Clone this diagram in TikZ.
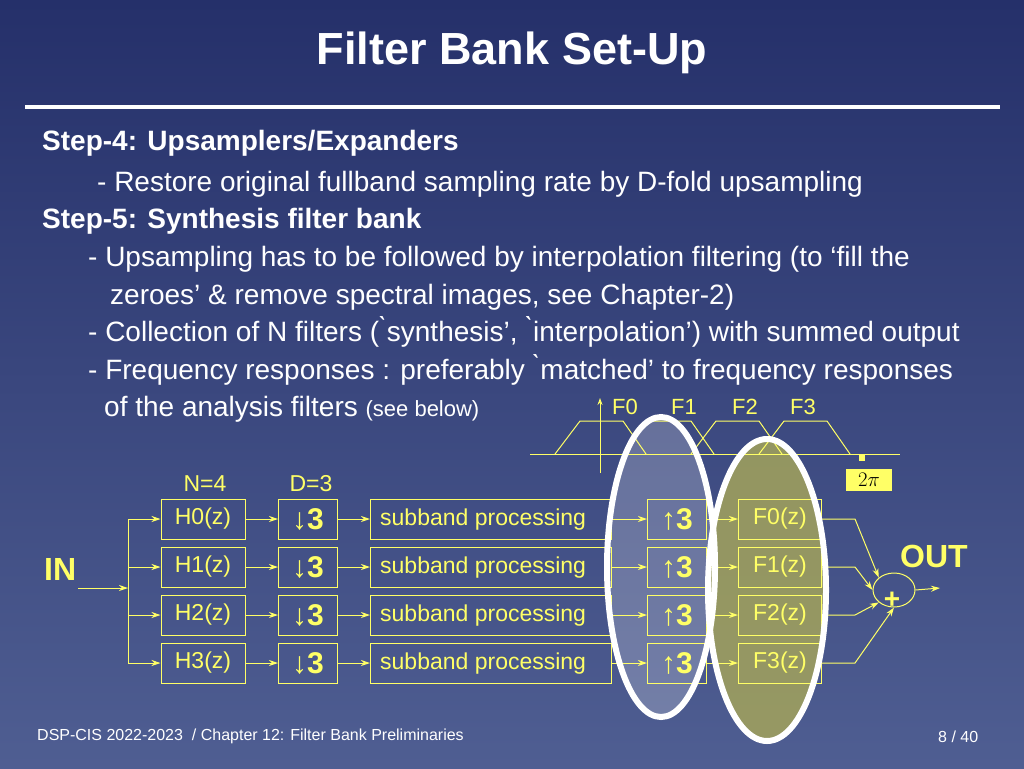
\documentclass[tikz,border=0pt]{standalone}
\usepackage{fontspec}
\setmainfont{Liberation Sans}
\usetikzlibrary{arrows.meta,shapes.geometric}
\definecolor{bgtop}{HTML}{25306A}
\definecolor{bgbot}{HTML}{4F5E92}
\definecolor{yel}{HTML}{FFFF66}
\definecolor{oli}{HTML}{A3A35C}
\begin{document}
\begin{tikzpicture}[x=1pt,y=-1pt,
  txt/.style={anchor=base west,text=white,inner sep=0pt,font=\fontsize{28}{32}\selectfont},
  ytxt/.style={anchor=base west,text=yel,inner sep=0pt,font=\fontsize{23}{27}\selectfont},
  blk/.style={draw=yel,line width=1pt,minimum height=40pt,inner sep=0pt},
  con/.style={draw=yel,line width=1pt,-{Stealth[length=9pt,width=6pt]}},
  ln/.style={draw=yel,line width=1pt},
  ring/.style={draw=white,line width=6pt}]
\shade[top color=bgtop,bottom color=bgbot] (0,0) rectangle (1024,768);
\useasboundingbox (0,0) rectangle (1024,768);
% title
\node[anchor=base,text=white,font=\fontsize{45}{50}\bfseries\selectfont] (title) at (512,64) {Filter Bank Set-Up};
\draw[white,line width=4pt] (25,107) -- (1000,107);
% text
\node[txt,font=\fontsize{28}{32}\bfseries\selectfont] (t1) at (42,150) {Step-4: Upsamplers/Expanders};
\node[txt] (t2) at (97,191) {- Restore original fullband sampling rate by D-fold upsampling};
\node[txt,font=\fontsize{28}{32}\bfseries\selectfont] (t3) at (42,228) {Step-5: Synthesis filter bank};
\node[txt] (t4) at (88,266) {- Upsampling has to be followed by interpolation filtering (to ‘fill the};
\node[txt] (t5) at (110,304) {zeroes’ \& remove spectral images, see Chapter-2)};
\node[txt] (t6) at (88,341) {- Collection of N filters (\`{}synthesis’, \`{}interpolation’) with summed output};
\node[txt] (t7) at (88,379) {- Frequency responses : preferably \`{}matched’ to frequency responses};
\node[txt] (t8) at (104,416) {of the analysis filters {\fontsize{22}{26}\selectfont(see below)}};
% ellipse fills
\fill[white,opacity=0.22] (661,567) ellipse [x radius=54,y radius=150];
\fill[oli,opacity=0.85] (767,590) ellipse [x radius=59,y radius=151];
% frequency plot
\draw[ln] (530,454) -- (900,454);
\draw[ln,-{Stealth[length=7pt,width=5pt]}] (600,473) -- (600,398);
\foreach \a in {555,623,691,759} {\draw[ln] (\a,454) -- (\a+25,421) -- (\a+68,421) -- (\a+91,454);}
\foreach \x/\t in {625/F0,684/F1,745/F2,803/F3} {\node[ytxt,anchor=base,font=\fontsize{22}{26}\selectfont] at (\x,414) {\t};}
\fill[yel] (859,455) rectangle (865,461);
\node[fill=yel,minimum width=46pt,minimum height=22pt,inner sep=0pt,font=\fontsize{22}{26}\selectfont] (tp) at (869,480) {$2\pi$};
% block diagram
\node[ytxt,anchor=base] at (205,491) {N=4};
\node[ytxt,anchor=base] at (311,491) {D=3};
\node[text=yel,font=\fontsize{32}{36}\bfseries\selectfont,anchor=base west,inner sep=0pt] (in) at (44,580) {IN};
\node[text=yel,font=\fontsize{32}{36}\bfseries\selectfont,anchor=base west,inner sep=0pt] (out) at (900,567) {OUT};
\coordinate (inS) at (78,588);
\coordinate (bus) at (128,588);
\draw[con] (inS) -- (bus);
\draw[ln] (128,519) -- (128,663);
\node[draw=yel,line width=1pt,ellipse,minimum width=42pt,minimum height=34pt,inner sep=0pt] (sum) at (894,590) {};
\node[text=yel,font=\fontsize{28}{30}\bfseries\selectfont] at (892,600) {+};
\coordinate (outE) at (940,588);
\draw[con] (sum.east) -- (outE);
\foreach \i/\y in {0/519,1/567,2/615,3/663} {
  \node[blk,minimum width=84pt,font=\fontsize{23}{27}\selectfont,text=yel] (h\i) at (203,\y) {H\i(z)};
  \node[blk,minimum width=59pt,text=yel] (d\i) at (308,\y) {\fontsize{30}{32}\selectfont↓\fontsize{30}{32}\bfseries\selectfont 3};
  \node[blk,minimum width=241pt,text=yel] (s\i) at (491,\y) {};
  \node[ytxt,font=\fontsize{23}{27}\selectfont] at (380,\y+6) {subband processing};
  \node[blk,minimum width=59pt,text=yel] (u\i) at (677,\y) {\fontsize{30}{32}\selectfont↑\fontsize{30}{32}\bfseries\selectfont 3};
  \node[blk,minimum width=83pt,text=yel,font=\fontsize{23}{27}\selectfont] (f\i) at (780,\y) {\raisebox{5pt}{F\i(z)}};
  \draw[con] (128,\y) -- (h\i.west);
  \draw[con] (h\i) -- (d\i);
  \draw[con] (d\i) -- (s\i);
  \draw[con] (s\i) -- (u\i);
  \draw[con] (u\i) -- (f\i);
}
\draw[con] (f0.east) -- (855,519) -- (sum.north west);
\draw[con] (f1.east) -- (855,567) -- (sum.west);
\draw[con] (f2.east) -- (855,615) -- (sum.south west);
\draw[con] (f3.east) -- (855,663) -- (sum.south);
% ellipse outlines
\draw[ring] (661,567) ellipse [x radius=54,y radius=150];
\draw[ring] (767,590) ellipse [x radius=59,y radius=151];
% footer
\node[anchor=base west,text=white,inner sep=0pt,font=\fontsize{16}{19}\selectfont] (ft) at (37,740) {DSP-CIS 2022-2023~~/ Chapter 12: Filter Bank Preliminaries};
\node[anchor=base west,text=white,inner sep=0pt,font=\fontsize{16}{19}\selectfont] (pg) at (938,742) {8 / 40};
\end{tikzpicture}
\end{document}
